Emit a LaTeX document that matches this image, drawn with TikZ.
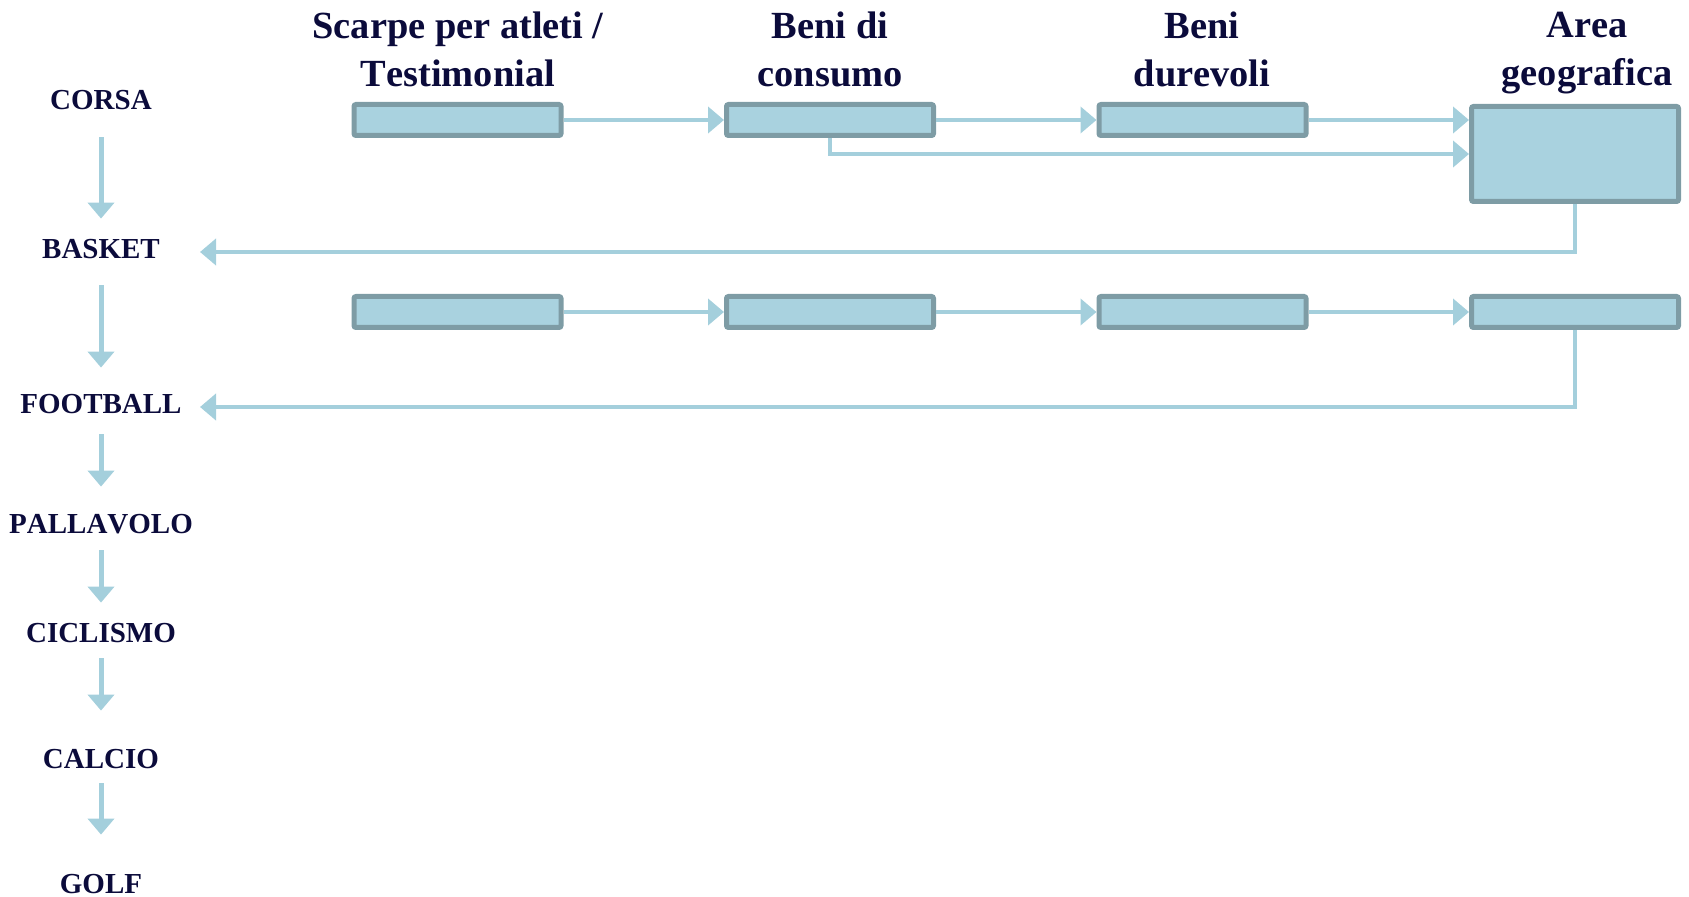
\documentclass[tikz,border=0pt]{standalone}
\usepackage{fontspec}
\setmainfont{Liberation Serif}[Kerning=Off]
\usetikzlibrary{arrows.meta}

\definecolor{boxfill}{HTML}{A9D2DF}
\definecolor{boxline}{HTML}{7E9CA5}
\definecolor{flowcol}{HTML}{A4CFDC}
\definecolor{labtext}{HTML}{0B0B3B}

\tikzset{
  sport/.style={inner sep=0pt,text height=10pt,text depth=0pt,text=labtext,
    font=\fontsize{14.5}{17}\selectfont\bfseries},
  head/.style={align=center,inner sep=0pt,text=labtext,
    font=\fontsize{19.2}{24}\selectfont\bfseries},
  cell/.style={draw=boxline,fill=boxfill,line width=2.5pt,rounded corners=1pt,
    minimum width=103.5pt,minimum height=15.5pt,inner sep=0pt},
  flow/.style={draw=flowcol,line width=2.2pt,-{Triangle[width=13pt,length=8pt]}},
}

\begin{document}
\begin{tikzpicture}[x=0.5pt,y=-0.5pt]
\useasboundingbox (0,0) rectangle (1689,897);

% column headings
\node[head] (h1) at (458,49) {Scarpe per atleti /\\Testimonial};
\node[head] (h2) at (830,49) {Beni di\\consumo};
\node[head] (h3) at (1202,49) {Beni\\durevoli};
\node[head] (h4) at (1587,53) {Area\\geografica};

% sports
\node[sport] (corsa) at (101,100) {CORSA};
\node[sport] (basket) at (101,249) {BASKET};
\node[sport] (football) at (101,404) {FOOTBALL};
\node[sport] (pallavolo) at (101,523) {PALLAVOLO};
\node[sport] (ciclismo) at (101,632) {CICLISMO};
\node[sport] (calcio) at (101,758) {CALCIO};
\node[sport] (golf) at (101,883) {GOLF};

\foreach \a/\b/\s/\e in {corsa/basket/13.5/10,basket/football/13/13,
    football/pallavolo/10/13,pallavolo/ciclismo/8.5/9.5,
    ciclismo/calcio/8/18.5,calcio/golf/7.5/19}
  \draw[flow,line width=2.5pt,shorten <=\s pt,shorten >=\e pt] (\a) -- (\b);

% first row
\node[cell] (b1) at (457.5,120) {};
\node[cell] (b2) at (830,120) {};
\node[cell] (b3) at (1202.5,120) {};
\node[cell,minimum height=47.5pt] (geo1) at (1575,154) {};

% second row
\node[cell] (c1) at (457.5,312) {};
\node[cell] (c2) at (830,312) {};
\node[cell] (c3) at (1202.5,312) {};
\node[cell] (geo2) at (1575,312) {};

\coordinate (retx) at (200,0);

\draw[flow] (b1) -- (b2);
\draw[flow] (b2) -- (b3);
\draw[flow] (b3) -- (b3 -| geo1.west);
\draw[flow] (b2.south) |- (geo1);
\draw[flow] (geo1) |- ([yshift=-1.5pt]basket.center -| retx);

\draw[flow] (c1) -- (c2);
\draw[flow] (c2) -- (c3);
\draw[flow] (c3) -- (geo2);
\draw[flow] (geo2) |- ([yshift=-1.5pt]football.center -| retx);

\end{tikzpicture}
\end{document}
